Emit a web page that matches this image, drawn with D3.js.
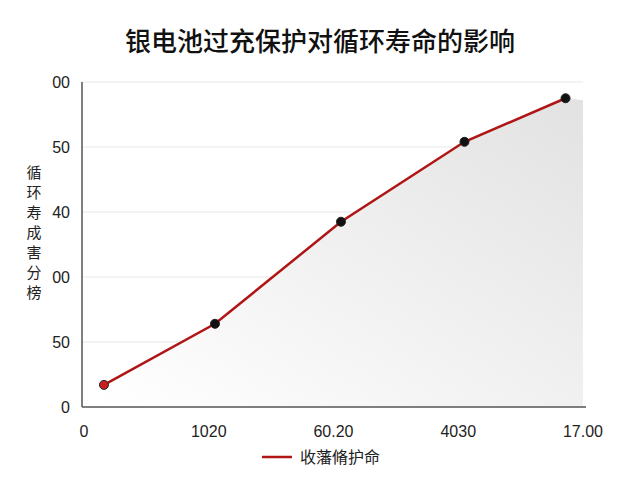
<!DOCTYPE html>
<html><head><meta charset="utf-8">
<script src="https://cdn.jsdelivr.net/npm/d3@7"></script>
<style>body{margin:0;background:#fff;font-family:"Noto Sans CJK SC","Liberation Sans",sans-serif}</style>
</head><body>
<script>
// data (x in tick units, y in grid units)
const xTickLabels = ["0", "1020", "60.20", "4030", "17.00"];
const yTickLabels = ["0", "50", "00", "40", "50", "00"];
const xValues = [0.16, 1.05, 2.06, 3.05, 3.86];
const yValues = [0.34, 1.28, 2.85, 4.08, 4.75];
const pts = xValues.map((x, i) => ({x, y: yValues[i]}));

const svg = d3.select("body").append("svg").attr("width", 640).attr("height", 480);
const x = d3.scaleLinear().domain([0, 4]).range([84, 583]);
const y = d3.scaleLinear().domain([0, 5]).range([407, 82]);

svg.append("text").attr("x", 320).attr("y", 51).attr("text-anchor", "middle")
  .attr("font-size", 26).attr("font-weight", 500).attr("fill", "#111").text("银电池过充保护对循环寿命的影响");

// gradient for area
const g = svg.append("defs").append("linearGradient").attr("id", "ag").attr("x1", 0).attr("x2", 1).attr("y1", 1).attr("y2", 0);
g.append("stop").attr("offset", "0%").attr("stop-color", "#fff");
g.append("stop").attr("offset", "100%").attr("stop-color", "#e2e2e2");

// grid
svg.append("g").selectAll("line").data(d3.range(1, 6)).join("line")
  .attr("x1", 82).attr("x2", 583).attr("y1", d => y(d)).attr("y2", d => y(d))
  .attr("stroke", "#e8e8e8");

const ext = pts.concat([{x: 4, y: yValues[4] - 0.03}]);
svg.append("path").datum(ext)
  .attr("d", d3.area().x(d => x(d.x)).y0(y(0)).y1(d => y(d.y)))
  .attr("fill", "url(#ag)");

// axes
svg.append("line").attr("x1", 82).attr("x2", 82).attr("y1", 82).attr("y2", 407).attr("stroke", "#555").attr("stroke-width", 1.5);
svg.append("line").attr("x1", 82).attr("x2", 586).attr("y1", 407).attr("y2", 407).attr("stroke", "#555").attr("stroke-width", 1.5);

svg.append("g").selectAll("text").data(yTickLabels).join("text")
  .attr("x", 70).attr("y", (d, i) => y(i) + 6).attr("text-anchor", "end")
  .attr("font-size", 16).attr("font-family", "Liberation Sans, sans-serif").attr("fill", "#222").text(d => d);
svg.append("g").selectAll("text").data(xTickLabels).join("text")
  .attr("x", (d, i) => x(i)).attr("y", 437).attr("text-anchor", "middle")
  .attr("font-size", 16).attr("font-family", "Liberation Sans, sans-serif").attr("fill", "#222").text(d => d);

// y title vertical
svg.append("g").selectAll("text").data("循环寿成害分榜".split("")).join("text")
  .attr("x", 34).attr("y", (d, i) => 178 + i * 20).attr("text-anchor", "middle")
  .attr("font-size", 15).attr("fill", "#222").text(d => d);

svg.append("path").datum(pts)
  .attr("d", d3.line().x(d => x(d.x)).y(d => y(d.y)))
  .attr("fill", "none").attr("stroke", "#b01515").attr("stroke-width", 2.5);

svg.append("g").selectAll("circle").data(pts).join("circle")
  .attr("cx", d => x(d.x)).attr("cy", d => y(d.y)).attr("r", 4.5)
  .attr("fill", (d, i) => i === 0 ? "#c62020" : "#111").attr("stroke", "#222");

// legend
svg.append("line").attr("x1", 262).attr("x2", 292).attr("y1", 457).attr("y2", 457).attr("stroke", "#b01515").attr("stroke-width", 2.5);
svg.append("text").attr("x", 300).attr("y", 463).attr("font-size", 16).attr("fill", "#222").text("收藩脩护命");
</script>
</body></html>
